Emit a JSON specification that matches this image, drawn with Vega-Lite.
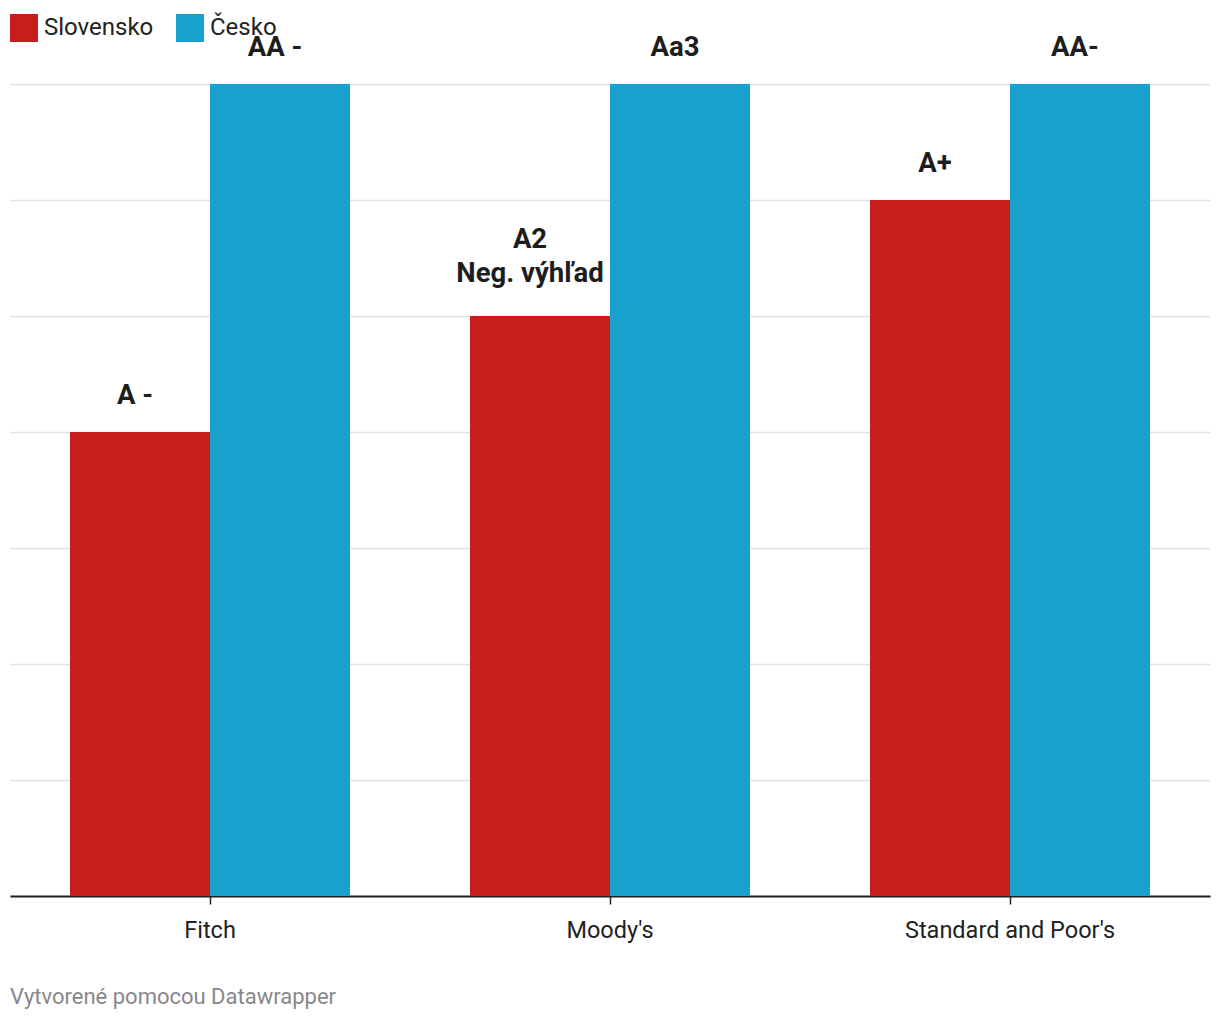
{
  "$schema": "https://vega.github.io/schema/vega-lite/v6.json",
  "width": 1200,
  "height": 812,
  "autosize": "none",
  "padding": {"left": 10, "top": 84, "right": 10, "bottom": 124},
  "background": "white",
  "config": {
    "font": "Roboto",
    "view": {"stroke": null}
  },
  "title": {
    "text": "Vytvorené pomocou Datawrapper",
    "orient": "bottom",
    "anchor": "start",
    "frame": "group",
    "offset": 45,
    "fontSize": 22,
    "fontWeight": "normal",
    "color": "#888888",
    "font": "Roboto"
  },
  "data": {
    "values": [
      {"agentura": "Fitch", "krajina": "Slovensko", "hodnota": 4, "rating": "A -", "viacriadkov": false},
      {"agentura": "Fitch", "krajina": "Česko", "hodnota": 7, "rating": "AA -", "viacriadkov": false},
      {"agentura": "Moody's", "krajina": "Slovensko", "hodnota": 5, "rating": ["A2", "Neg. výhľad"], "viacriadkov": true},
      {"agentura": "Moody's", "krajina": "Česko", "hodnota": 7, "rating": "Aa3", "viacriadkov": false},
      {"agentura": "Standard and Poor's", "krajina": "Slovensko", "hodnota": 6, "rating": "A+", "viacriadkov": false},
      {"agentura": "Standard and Poor's", "krajina": "Česko", "hodnota": 7, "rating": "AA-", "viacriadkov": false}
    ]
  },
  "encoding": {
    "x": {
      "field": "agentura",
      "type": "nominal",
      "sort": null,
      "scale": {"paddingInner": 0.3, "paddingOuter": 0.15},
      "axis": {
        "title": null,
        "labelAngle": 0,
        "labelFontSize": 23.5,
        "labelLimit": 0,
        "labelColor": "#222222",
        "labelPadding": 14,
        "domainColor": "#222222",
        "domainWidth": 2,
        "tickColor": "#222222",
        "tickSize": 8,
        "tickWidth": 1.5
      }
    },
    "xOffset": {"field": "krajina", "type": "nominal", "sort": ["Slovensko", "Česko"]},
    "y": {
      "field": "hodnota",
      "type": "quantitative",
      "scale": {"domain": [0, 7], "nice": false},
      "axis": {
        "title": null,
        "labels": false,
        "ticks": false,
        "domain": false,
        "tickCount": 7,
        "gridColor": "#e2e2e2",
        "gridWidth": 1.5
      }
    }
  },
  "layer": [
    {
      "mark": {"type": "bar"},
      "encoding": {
        "color": {
          "field": "krajina",
          "type": "nominal",
          "scale": {"domain": ["Slovensko", "Česko"], "range": ["#c71e1d", "#18a1cd"]},
          "legend": {
            "title": null,
            "orient": "none",
            "direction": "horizontal",
            "legendX": 0,
            "legendY": -70,
            "symbolType": "square",
            "symbolSize": 784,
            "symbolStrokeWidth": 0,
            "symbolOpacity": 1,
            "labelFontSize": 24,
            "labelColor": "#222222",
            "labelOffset": 6,
            "columnPadding": 22,
            "labelFont": "Roboto"
          }
        }
      }
    },
    {
      "transform": [{"filter": "!datum.viacriadkov"}],
      "mark": {
        "type": "text",
        "baseline": "alphabetic",
        "dy": -28,
        "dx": -5,
        "fontSize": 27.5,
        "fontWeight": "bold",
        "color": "#1d1d1d"
      },
      "encoding": {
        "text": {"field": "rating"}
      }
    },
    {
      "transform": [{"filter": "datum.viacriadkov"}],
      "mark": {
        "type": "text",
        "baseline": "alphabetic",
        "dy": -68,
        "dx": -10,
        "fontSize": 27.5,
        "fontWeight": "bold",
        "color": "#1d1d1d",
        "lineHeight": 34
      },
      "encoding": {
        "text": {"field": "rating"}
      }
    }
  ]
}
